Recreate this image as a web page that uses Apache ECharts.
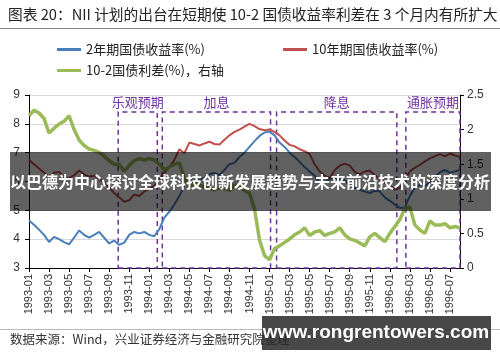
<!DOCTYPE html>
<html><head><meta charset="utf-8">
<script src="https://cdn.jsdelivr.net/npm/echarts@6/dist/echarts.min.js"></script>
<style>html,body{margin:0;padding:0;background:#fff}#c{width:500px;height:362px}</style>
</head><body><div id="c"></div><script>
// ---- data ----
var dates = [
'1993-01-01','1993-01-16','1993-02-01','1993-02-16','1993-03-01','1993-03-16','1993-04-01','1993-04-16','1993-05-01','1993-05-16','1993-06-01','1993-06-16',
'1993-07-01','1993-07-16','1993-08-01','1993-08-16','1993-09-01','1993-09-16','1993-10-01','1993-10-16','1993-11-01','1993-11-16','1993-12-01','1993-12-16',
'1994-01-01','1994-01-16','1994-02-01','1994-02-16','1994-03-01','1994-03-16','1994-04-01','1994-04-16','1994-05-01','1994-05-16','1994-06-01','1994-06-16',
'1994-07-01','1994-07-16','1994-08-01','1994-08-16','1994-09-01','1994-09-16','1994-10-01','1994-10-16','1994-11-01','1994-11-16','1994-12-01','1994-12-16',
'1995-01-01','1995-01-16','1995-02-01','1995-02-16','1995-03-01','1995-03-16','1995-04-01','1995-04-16','1995-05-01','1995-05-16','1995-06-01','1995-06-16',
'1995-07-01','1995-07-16','1995-08-01','1995-08-16','1995-09-01','1995-09-16','1995-10-01','1995-10-16','1995-11-01','1995-11-16','1995-12-01','1995-12-16',
'1996-01-01','1996-01-16','1996-02-01','1996-02-16','1996-03-01','1996-03-16','1996-04-01','1996-04-16','1996-05-01','1996-05-16','1996-06-01','1996-06-16',
'1996-07-01','1996-07-16','1996-08-01'
];
var yield2y = [
4.65,4.5,4.33,4.15,3.9,4.08,4.0,3.9,3.82,4.05,4.3,4.15,4.05,4.15,4.25,4.05,3.85,3.95,3.8,3.88,
4.15,4.25,4.2,4.25,4.15,4.1,4.35,4.75,4.95,5.2,5.5,5.85,6.0,5.98,6.05,6.12,6.25,6.3,6.22,6.4,
6.6,6.65,6.85,7.0,7.2,7.4,7.58,7.7,7.73,7.6,7.35,7.2,7.0,6.85,6.68,6.5,6.35,6.2,5.95,5.98,
6.08,6.12,6.08,6.05,5.85,5.78,5.72,5.65,5.6,5.68,5.65,5.45,5.33,5.2,5.08,5.1,5.5,5.8,5.88,5.83,
5.98,6.15,6.32,6.4,6.3,6.35,6.4
];
var yield10y = [
6.75,6.6,6.45,6.3,6.15,6.3,6.33,6.15,6.12,6.22,6.38,6.25,6.17,6.2,6.1,5.97,5.8,5.6,5.45,5.3,
5.35,5.55,5.5,5.65,5.75,5.85,6.05,6.3,6.5,6.75,7.12,6.98,7.35,7.3,7.25,7.32,7.38,7.3,7.28,7.45,
7.6,7.72,7.8,7.9,8.0,7.92,7.82,7.78,7.8,7.72,7.6,7.42,7.27,7.22,7.12,7.05,6.95,6.6,6.35,6.2,
6.12,6.4,6.55,6.62,6.55,6.33,6.25,6.35,6.38,6.22,6.08,5.95,5.85,5.72,5.78,6.05,6.35,6.48,6.58,6.7,
6.8,6.88,6.95,6.87,6.97,6.9,6.85
];
var spread = [
2.2,2.28,2.24,2.16,1.95,2.02,2.08,2.12,2.2,2.0,1.85,1.77,1.72,1.7,1.67,1.62,1.55,1.5,1.5,1.4,
1.48,1.55,1.58,1.56,1.58,1.56,1.5,1.42,1.46,1.5,1.52,1.3,1.18,1.22,1.2,1.17,1.15,1.13,1.16,1.15,
1.12,1.2,1.17,1.12,1.08,0.85,0.4,0.18,0.12,0.28,0.32,0.37,0.42,0.48,0.52,0.58,0.47,0.52,0.54,0.47,
0.5,0.52,0.58,0.48,0.42,0.4,0.36,0.32,0.45,0.5,0.44,0.38,0.5,0.6,0.7,0.86,0.88,0.62,0.55,0.5,
0.68,0.62,0.62,0.64,0.58,0.6,0.58
];
var xTickLabels = ['1993-01','1993-03','1993-05','1993-07','1993-09','1993-11','1994-01','1994-03','1994-05','1994-07','1994-09','1994-11',
'1995-01','1995-03','1995-05','1995-07','1995-09','1995-11','1996-01','1996-03','1996-05','1996-07'];
var leftTicks = [3,4,5,6,7,8,9];
var rightTicks = [0,0.5,1,1.5,2,2.5];
var periodLabels = ['乐观预期','加息','降息','通胀预期'];
var periodStarts = ['1993-09-28','1994-02-10','1995-01-22','1996-02-19'];
var periodEnds   = ['1994-01-25','1995-01-04','1996-01-22','1996-08-04'];
var seriesNames = ['2年期国债收益率(%)','10年期国债收益率(%)','10-2国债利差(%)，右轴'];
var titleText = '图表 20：NII 计划的出台在短期使 10-2 国债收益率利差在 3 个月内有所扩大';
var sourceText = '数据来源：Wind，兴业证券经济与金融研究院整理';
var bannerText = '以巴德为中心探讨全球科技创新发展趋势与未来前沿技术的深度分析';
var watermarkText = 'www.rongrentowers.com';

// ---- chart ----
function mi(s){var p=s.split('-');return (p[0]-1993)*12+(p[1]-1)+(p[2]-1)/30;}
function pairs(arr){return dates.map(function(d,i){return [mi(d),arr[i]];});}
var FONT = '"Noto Sans CJK SC","Noto Sans",sans-serif';
var purple = '#7030A0';
var boxes = periodLabels.map(function(l,i){
  return [{name:l, xAxis: mi(periodStarts[i]), yAxis: leftTicks[0]},
          {xAxis: mi(periodEnds[i]), yAxis: 8.41}];
});
var chart = echarts.init(document.getElementById('c'), null, {renderer:'canvas'});
var legendBase = {padding:0, icon:'rect', itemWidth:24, itemHeight:3, itemGap:5,
  textStyle:{fontSize:13, color:'#222', fontFamily:FONT}};
chart.setOption({
  animation:false,
  backgroundColor:'#fff',
  grid:{left:29, right:40, top:95, bottom:94},
  legend:[
    Object.assign({}, legendBase, {data:[seriesNames[0]], left:57, top:43}),
    Object.assign({}, legendBase, {data:[seriesNames[1]], left:283, top:43}),
    Object.assign({}, legendBase, {data:[seriesNames[2]], left:57, top:64})
  ],
  xAxis:{type:'value', min:0, max:mi(periodEnds[3]) - 0.1, interval:2,
    axisLine:{lineStyle:{color:'#000', width:1}},
    axisTick:{show:true, length:4, lineStyle:{color:'#000'}},
    splitLine:{show:false},
    axisLabel:{rotate:90, fontSize:11, color:'#333', margin:6, fontFamily:'"Liberation Sans",Arial,sans-serif',
      showMaxLabel:false,
      formatter:function(v){var k=Math.round(v/2);return (Math.abs(v-2*k)<1e-6 && xTickLabels[k])?xTickLabels[k]:'';}}
  },
  yAxis:[
    {type:'value', min:leftTicks[0], max:leftTicks[leftTicks.length-1], interval:1,
      axisLine:{show:true, lineStyle:{color:'#000'}},
      axisTick:{show:true, length:4, lineStyle:{color:'#000'}},
      splitLine:{show:true, lineStyle:{color:'#d9d9d9', width:1}},
      axisLabel:{fontSize:12, color:'#333', margin:9, fontFamily:'"Liberation Sans",Arial,sans-serif'}},
    {type:'value', min:rightTicks[0], max:rightTicks[rightTicks.length-1], interval:0.5, position:'right',
      axisLine:{show:true, lineStyle:{color:'#000'}},
      axisTick:{show:true, length:4, lineStyle:{color:'#000'}},
      splitLine:{show:false},
      axisLabel:{fontSize:12, color:'#333', margin:7, fontFamily:'"Liberation Sans",Arial,sans-serif'}}
  ],
  series:[
    {name:seriesNames[0], type:'line', yAxisIndex:0, showSymbol:false, symbol:'none',
      data:pairs(yield2y), itemStyle:{color:'#4A7EBB'}, lineStyle:{color:'#4A7EBB', width:2}, z:2},
    {name:seriesNames[1], type:'line', yAxisIndex:0, showSymbol:false, symbol:'none',
      data:pairs(yield10y), itemStyle:{color:'#C0504D'}, lineStyle:{color:'#C0504D', width:2}, z:3,
      markArea:{silent:true, itemStyle:{color:'rgba(0,0,0,0)', borderColor:purple, borderWidth:1.5, borderType:[5,4]},
        label:{show:true, position:'top', color:purple, fontSize:13, fontFamily:FONT, distance:3},
        data:boxes}},
    {name:seriesNames[2], type:'line', yAxisIndex:1, showSymbol:false, symbol:'none',
      data:pairs(spread), itemStyle:{color:'#9BBB59'}, lineStyle:{color:'#9BBB59', width:3.5}, z:4}
  ],
  graphic:[
    {type:'text', x:8, y:14, z:100, style:{text:titleText, fontSize:14.7, fontFamily:FONT, fill:'#222', verticalAlign:'middle'}},
    {type:'line', z:100, shape:{x1:0, y1:28.5, x2:500, y2:28.5}, style:{stroke:'#888', lineWidth:1}},
    {type:'line', z:100, shape:{x1:0, y1:329.5, x2:500, y2:329.5}, style:{stroke:'#bbb', lineWidth:1}},
    {type:'text', x:10, y:339, z:100, style:{text:sourceText, fontSize:12.5, fontFamily:FONT, fill:'#333', verticalAlign:'middle'}},
    {type:'rect', z:100, shape:{x:10, y:152, width:481, height:59}, style:{fill:'rgba(0,0,0,0.62)'}},
    {type:'text', x:250, y:182, z:101, style:{text:bannerText, fontSize:16, fontWeight:'bold', fontFamily:FONT, fill:'#fff', align:'center', verticalAlign:'middle'}},
    {type:'rect', z:100, shape:{x:262, y:316, width:229, height:34}, style:{fill:'rgba(40,40,40,0.85)'}},
    {type:'text', x:376, y:333, z:101, style:{text:watermarkText, fontSize:19, fontWeight:'bold', fontFamily:'"Liberation Sans",Arial,sans-serif', fill:'#fff', align:'center', verticalAlign:'middle'}}
  ]
});
</script></body></html>
